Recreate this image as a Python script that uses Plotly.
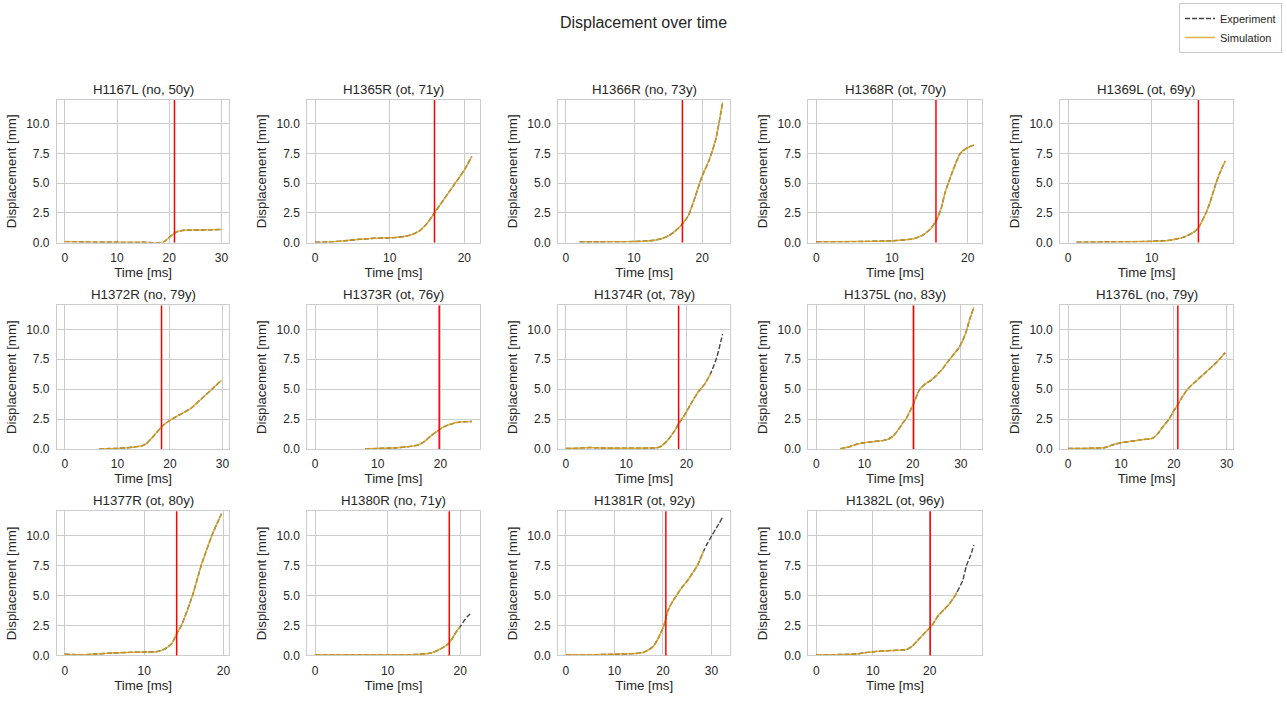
import plotly.graph_objects as go

# ---------------- data ----------------
panel_titles = ["H1167L (no, 50y)", "H1365R (ot, 71y)", "H1366R (no, 73y)", "H1368R (ot, 70y)",
                "H1369L (ot, 69y)", "H1372R (no, 79y)", "H1373R (ot, 76y)", "H1374R (ot, 78y)",
                "H1375L (no, 83y)", "H1376L (no, 79y)", "H1377R (ot, 80y)", "H1380R (no, 71y)",
                "H1381R (ot, 92y)", "H1382L (ot, 96y)"]

impact_ms = [21.0, 16.0, 17.1, 15.8, 15.6, 18.4, 19.8, 18.7, 20.2, 20.75, 14.1, 18.5, 20.6, 20.1]

exp_time = [
    [0, 3, 6, 10, 15, 18.8, 19.5, 20.3, 21, 21.7, 22.5, 24, 26, 28, 30],
    [0, 2, 4, 6, 8, 10, 11, 12, 13, 14, 15, 16, 17, 18, 19, 20, 21],
    [2, 5, 8, 10, 12, 13, 14, 15, 16, 17, 18, 19, 20, 21, 22, 23],
    [0, 5, 10, 12, 13, 14, 15, 15.8, 16.5, 17, 18, 19, 20, 20.8],
    [1, 5, 10, 12, 13, 14, 15, 15.6, 16.5, 17, 17.7, 18.3, 18.8],
    [6.5, 10, 13, 14.5, 15.5, 16.5, 17.5, 18.5, 20, 22, 24, 26, 28, 29.8],
    [8, 10, 13, 15, 16.5, 17.5, 18.5, 19.5, 20.5, 21.5, 23, 25],
    [0, 2, 4, 5, 6, 8, 10, 12, 14, 15, 15.5, 16, 17, 18, 18.7, 19.5, 20, 21, 22, 23, 24, 25, 26],
    [5, 7, 8.5, 10, 12, 14, 15, 16, 17, 18, 18.6, 19.5, 20.2, 21, 21.5, 22.5, 24, 26, 27.3, 28.5, 29.5, 30.3, 31.1, 31.8, 32.7],
    [0, 3, 5, 7, 8, 9, 10, 12, 14, 16, 17, 18, 19.1, 20, 20.75, 21.5, 22.6, 24, 26, 28, 28.6, 29.7],
    [0, 2, 4, 6, 8, 10, 11.5, 12.5, 13.5, 14.1, 14.7, 16.1, 17.2, 18.55, 19.2, 19.75],
    [0, 5, 10, 14, 16, 17, 18, 18.5, 19, 19.5, 20, 20.5, 21, 21.6],
    [0, 5, 10, 14, 16, 17, 18, 19, 20.2, 21, 22, 22.8, 24, 25, 26, 27.1, 28.4, 29, 30.1, 31, 32.3],
    [0, 5, 7, 9, 11, 13, 15, 16, 17, 18, 19, 20.4, 21.5, 22.5, 23.5, 24.5, 24.8, 25.8, 26.5, 27.2, 27.8],
]
exp_disp = [
    [0.08, 0.05, 0.03, 0.02, 0.02, 0.02, 0.25, 0.55, 0.8, 0.95, 1.02, 1.05, 1.06, 1.08, 1.1],
    [0.02, 0.05, 0.15, 0.28, 0.36, 0.4, 0.44, 0.52, 0.68, 0.98, 1.6, 2.5, 3.4, 4.3, 5.2, 6.1, 7.25],
    [0.05, 0.05, 0.07, 0.09, 0.14, 0.2, 0.32, 0.55, 0.95, 1.5, 2.3, 3.9, 5.6, 6.9, 8.7, 11.8],
    [0.05, 0.08, 0.15, 0.25, 0.35, 0.6, 1.1, 1.8, 2.9, 4.2, 6.0, 7.5, 8.0, 8.2],
    [0.02, 0.05, 0.1, 0.18, 0.3, 0.5, 0.85, 1.25, 2.5, 3.4, 5.0, 6.1, 6.85],
    [0.03, 0.05, 0.15, 0.25, 0.45, 0.9, 1.4, 1.9, 2.4, 2.9, 3.4, 4.2, 5.0, 5.75],
    [0.02, 0.04, 0.1, 0.2, 0.35, 0.65, 1.1, 1.5, 1.85, 2.05, 2.25, 2.3],
    [0.05, 0.06, 0.12, 0.1, 0.08, 0.07, 0.07, 0.07, 0.08, 0.1, 0.15, 0.3, 0.8, 1.5, 2.1, 2.7, 3.1, 4.0, 4.8, 5.4, 6.3, 7.6, 9.6],
    [0.02, 0.2, 0.42, 0.52, 0.62, 0.72, 0.83, 1.1, 1.6, 2.2, 2.5, 3.2, 3.8, 4.6, 5.0, 5.4, 5.8, 6.6, 7.3, 7.9, 8.4, 9.0, 9.8, 10.8, 11.85],
    [0.05, 0.05, 0.07, 0.12, 0.28, 0.42, 0.52, 0.65, 0.78, 0.9, 1.3, 1.9, 2.5, 3.2, 3.7, 4.3, 5.0, 5.6, 6.4, 7.2, 7.5, 8.05],
    [0.1, 0.05, 0.12, 0.2, 0.25, 0.28, 0.3, 0.5, 1.0, 1.8, 2.5, 5.0, 7.5, 10.0, 11.0, 11.8],
    [0.05, 0.05, 0.05, 0.08, 0.2, 0.45, 0.8, 1.05, 1.5, 2.0, 2.4, 2.85, 3.25, 3.55],
    [0.05, 0.05, 0.1, 0.15, 0.25, 0.45, 0.75, 1.4, 2.5, 3.7, 4.5, 5.0, 5.7, 6.2, 6.8, 7.5, 8.7, 9.2, 10.0, 10.6, 11.5],
    [0.05, 0.08, 0.12, 0.25, 0.35, 0.4, 0.45, 0.5, 0.8, 1.3, 1.8, 2.5, 3.3, 3.8, 4.3, 5.0, 5.25, 6.2, 7.5, 8.3, 9.2],
]

sim_time = [
    [0, 3, 6, 10, 15, 18.8, 19.5, 20.3, 21, 21.7, 22.5, 24, 26, 28, 30],
    [0, 2, 4, 6, 8, 10, 11, 12, 13, 14, 15, 16, 17, 18, 19, 20, 21],
    [2, 5, 8, 10, 12, 13, 14, 15, 16, 17, 18, 19, 20, 21, 22, 23],
    [0, 5, 10, 12, 13, 14, 15, 15.8, 16.5, 17, 18, 19, 20, 20.8],
    [1, 5, 10, 12, 13, 14, 15, 15.6, 16.5, 17, 17.7, 18.3, 18.8],
    [6.5, 10, 13, 14.5, 15.5, 16.5, 17.5, 18.5, 20, 22, 24, 26, 28, 29.8],
    [8, 10, 13, 15, 16.5, 17.5, 18.5, 19.5, 20.5, 21.5, 23, 25],
    [0, 2, 4, 5, 6, 8, 10, 12, 14, 15, 15.5, 16, 17, 18, 18.7, 19.5, 20, 21, 22, 23, 24],
    [5, 7, 8.5, 10, 12, 14, 15, 16, 17, 18, 18.6, 19.5, 20.2, 21, 21.5, 22.5, 24, 26, 27.3, 28.5, 29.5, 30.3, 31.1, 31.8, 32.7],
    [0, 3, 5, 7, 8, 9, 10, 12, 14, 16, 17, 18, 19.1, 20, 20.75, 21.5, 22.6, 24, 26, 28, 28.6, 29.7],
    [0, 2, 4, 6, 8, 10, 11.5, 12.5, 13.5, 14.1, 14.7, 16.1, 17.2, 18.55, 19.2, 19.75],
    [0, 5, 10, 14, 16, 17, 18, 18.5, 19, 19.5, 20],
    [0, 5, 10, 14, 16, 17, 18, 19, 20.2, 21, 22, 22.8, 24, 25, 26, 27.1, 28.4],
    [0, 5, 7, 9, 11, 13, 15, 16, 17, 18, 19, 20.4, 21.5, 22.5, 23.5, 24.5, 24.8],
]
sim_disp = [
    [0.08, 0.05, 0.03, 0.02, 0.02, 0.02, 0.25, 0.55, 0.8, 0.95, 1.02, 1.05, 1.06, 1.08, 1.1],
    [0.02, 0.05, 0.15, 0.28, 0.36, 0.4, 0.44, 0.52, 0.68, 0.98, 1.6, 2.5, 3.4, 4.3, 5.2, 6.1, 7.25],
    [0.05, 0.05, 0.07, 0.09, 0.14, 0.2, 0.32, 0.55, 0.95, 1.5, 2.3, 3.9, 5.6, 6.9, 8.7, 11.8],
    [0.05, 0.08, 0.15, 0.25, 0.35, 0.6, 1.1, 1.8, 2.9, 4.2, 6.0, 7.5, 8.0, 8.2],
    [0.02, 0.05, 0.1, 0.18, 0.3, 0.5, 0.85, 1.25, 2.5, 3.4, 5.0, 6.1, 6.85],
    [0.03, 0.05, 0.15, 0.25, 0.45, 0.9, 1.4, 1.9, 2.4, 2.9, 3.4, 4.2, 5.0, 5.75],
    [0.02, 0.04, 0.1, 0.2, 0.35, 0.65, 1.1, 1.5, 1.85, 2.05, 2.25, 2.3],
    [0.05, 0.06, 0.12, 0.1, 0.08, 0.07, 0.07, 0.07, 0.08, 0.1, 0.15, 0.3, 0.8, 1.5, 2.1, 2.7, 3.1, 4.0, 4.8, 5.4, 6.3],
    [0.02, 0.2, 0.42, 0.52, 0.62, 0.72, 0.83, 1.1, 1.6, 2.2, 2.5, 3.2, 3.8, 4.6, 5.0, 5.4, 5.8, 6.6, 7.3, 7.9, 8.4, 9.0, 9.8, 10.8, 11.85],
    [0.05, 0.05, 0.07, 0.12, 0.28, 0.42, 0.52, 0.65, 0.78, 0.9, 1.3, 1.9, 2.5, 3.2, 3.7, 4.3, 5.0, 5.6, 6.4, 7.2, 7.5, 8.05],
    [0.1, 0.05, 0.12, 0.2, 0.25, 0.28, 0.3, 0.5, 1.0, 1.8, 2.5, 5.0, 7.5, 10.0, 11.0, 11.8],
    [0.05, 0.05, 0.05, 0.08, 0.2, 0.45, 0.8, 1.05, 1.5, 2.0, 2.4],
    [0.05, 0.05, 0.1, 0.15, 0.25, 0.45, 0.75, 1.4, 2.5, 3.7, 4.5, 5.0, 5.7, 6.2, 6.8, 7.5, 8.7],
    [0.05, 0.08, 0.12, 0.25, 0.35, 0.4, 0.45, 0.5, 0.8, 1.3, 1.8, 2.5, 3.3, 3.8, 4.3, 5.0, 5.25],
]

y_tick_vals = [0, 2.5, 5, 7.5, 10]
y_tick_text = ["0.0", "2.5", "5.0", "7.5", "10.0"]
y_limits = [0, 12]

# ---------------- layout geometry (pixels) ----------------
W, H = 1287, 703
COLS = [(57, 229.5), (307.5, 480), (558.5, 731), (809, 982.5), (1061, 1234)]
ROWS = [(101, 245), (308.5, 453.5), (516.5, 662)]

TXT = "#262626"
GRID = "#cccccc"
FONT = "Liberation Sans, Arial, sans-serif"
EXP_COLOR = "#444444"
SIM_COLOR = "#DAA520"

fig = go.Figure()
annotations = []
shapes = []
layout_axes = {}

for i, title in enumerate(panel_titles):
    r, c = divmod(i, 5)
    n = i + 1
    xa = "x" if n == 1 else f"x{n}"
    ya = "y" if n == 1 else f"y{n}"
    xkey = "xaxis" if n == 1 else f"xaxis{n}"
    ykey = "yaxis" if n == 1 else f"yaxis{n}"

    x0, x1 = COLS[c]
    top, bot = ROWS[r]

    fig.add_trace(go.Scatter(
        x=exp_time[i], y=exp_disp[i], mode="lines", name="Experiment",
        line=dict(color=EXP_COLOR, width=1.4, dash="5px,2px", shape="spline", smoothing=0.6),
        xaxis=xa, yaxis=ya, showlegend=(i == 0), legendgroup="exp"))
    fig.add_trace(go.Scatter(
        x=sim_time[i], y=sim_disp[i], mode="lines", name="Simulation",
        line=dict(color=SIM_COLOR, width=1.5, shape="spline", smoothing=0.6),
        opacity=0.85,
        xaxis=xa, yaxis=ya, showlegend=(i == 0), legendgroup="sim"))

    tmax = max(max(exp_time[i]), max(sim_time[i]))
    xr = [-0.05 * tmax, 1.05 * tmax]

    layout_axes[xkey] = dict(
        domain=[x0 / W, x1 / W], anchor=ya, range=xr, dtick=10, tick0=0,
        showgrid=True, gridcolor=GRID, gridwidth=1, zeroline=False,
        showline=True, linecolor=GRID, linewidth=1, mirror=True,
        ticks="outside", ticklen=4, tickcolor="rgba(0,0,0,0)",
        tickfont=dict(size=12, color=TXT, family=FONT),
        title=dict(text="Time [ms]", font=dict(size=13.3, color=TXT, family=FONT), standoff=2),
    )
    layout_axes[ykey] = dict(
        domain=[1 - bot / H, 1 - top / H], anchor=xa, range=y_limits,
        tickvals=y_tick_vals, ticktext=y_tick_text,
        showgrid=True, gridcolor=GRID, gridwidth=1, zeroline=False,
        showline=True, linecolor=GRID, linewidth=1, mirror=True,
        ticks="outside", ticklen=4, tickcolor="rgba(0,0,0,0)",
        tickfont=dict(size=12, color=TXT, family=FONT),
        title=dict(text="Displacement [mm]", font=dict(size=13.3, color=TXT, family=FONT), standoff=6),
    )

    shapes.append(dict(type="line", xref=xa, yref=f"{ya} domain",
                       x0=impact_ms[i], x1=impact_ms[i], y0=0, y1=1,
                       line=dict(color="red", width=1.5)))

    annotations.append(dict(text=title, xref="paper", yref="paper",
                            x=(x0 + x1) / 2 / W, y=1 - top / H, xanchor="center", yanchor="bottom",
                            yshift=1, showarrow=False,
                            font=dict(size=13.3, color=TXT, family=FONT)))

fig.update_layout(
    width=W, height=H,
    margin=dict(l=0, r=0, t=0, b=0),
    paper_bgcolor="white", plot_bgcolor="white",
    title=dict(text="Displacement over time", x=0.5, xanchor="center",
               y=1 - 22 / H, yanchor="middle",
               font=dict(size=16, color=TXT, family=FONT)),
    legend=dict(x=1283 / W, xanchor="right", y=1 - 3 / H, yanchor="top",
                bordercolor=GRID, borderwidth=1, bgcolor="white",
                font=dict(size=11, color=TXT, family=FONT),
                itemwidth=30, tracegroupgap=0),
    shapes=shapes,
    annotations=annotations,
    **layout_axes,
)

fig.write_html("out.html")
